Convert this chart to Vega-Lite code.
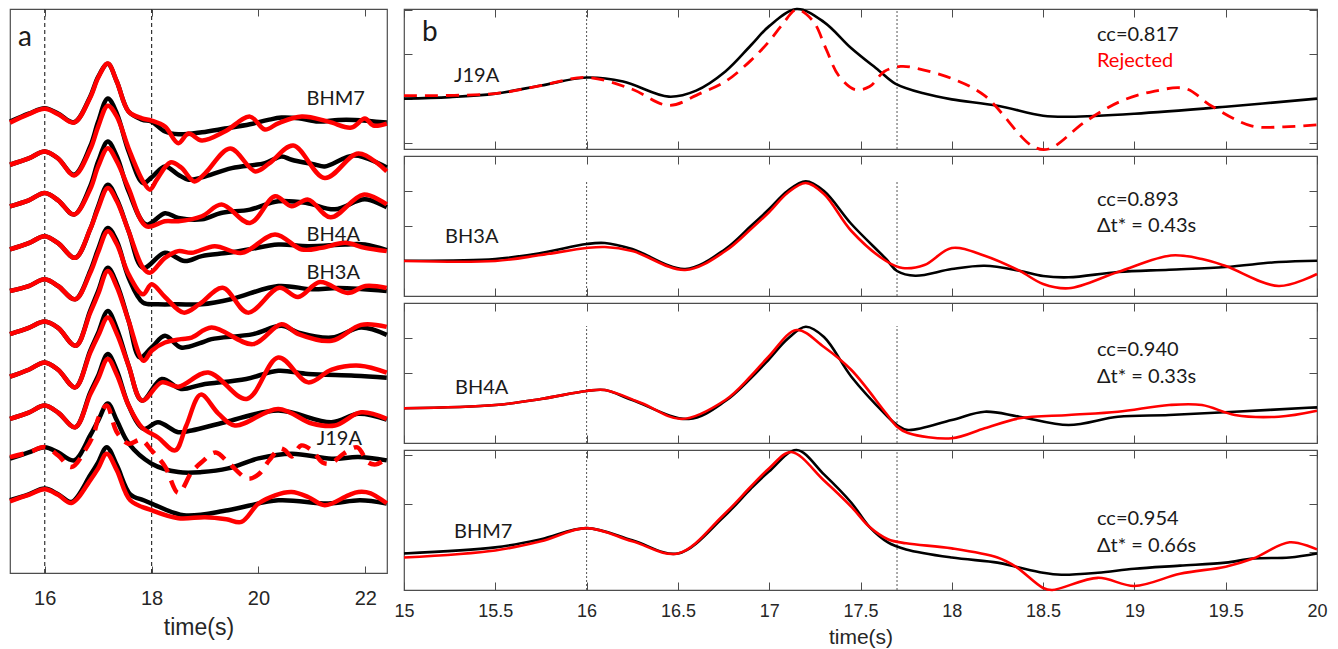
{
"$schema":"https://vega.github.io/schema/vega-lite/v6.json",
"padding":{"left":0,"top":3,"right":0,"bottom":0},
"background":"white",
"bounds":"flush",
"spacing":17,
"config":{
 "view":{"stroke":"#4d4d4d","strokeWidth":1.2},
 "axis":{"grid":false,"domain":false,"tickColor":"#4d4d4d","tickWidth":1,"labelFont":"Liberation Sans","titleFont":"Liberation Sans","labelColor":"#262626","titleColor":"#262626","titleFontWeight":"normal","labelFlush":false}
},
"datasets":{
"ra":[{"t":16},{"t":18}],
"ta":[
 {"t":15.5,"v":537,"txt":"a","k":"panel"},
 {"t":20.9,"v":475.5,"txt":"BHM7","k":"stn"},
 {"t":20.9,"v":339,"txt":"BH4A","k":"stn"},
 {"t":20.9,"v":301,"txt":"BH3A","k":"stn"},
 {"t":21.09,"v":134,"txt":"J19A","k":"stn"}
],
"rb":[
 {"p":"b1","t":16,"lo":0,"hi":139},{"p":"b1","t":17.7,"lo":0,"hi":139},
 {"p":"b2","t":16,"lo":0,"hi":115},{"p":"b2","t":17.7,"lo":0,"hi":115},
 {"p":"b3","t":16,"lo":0,"hi":117},{"p":"b3","t":17.7,"lo":0,"hi":117},
 {"p":"b4","t":16,"lo":0,"hi":138},{"p":"b4","t":17.7,"lo":0,"hi":138}
],
"tb":[
 {"p":"b1","t":15.099,"v":115,"txt":"b","k":"panel"},
 {"p":"b1","t":15.274,"v":72,"txt":"J19A","k":"stn"},
 {"p":"b1","t":18.795,"v":113,"txt":"cc=0.817","k":"cc"},
 {"p":"b1","t":18.795,"v":87,"txt":"Rejected","k":"rej"},
 {"p":"b2","t":15.225,"v":59,"txt":"BH3A","k":"stn"},
 {"p":"b2","t":18.795,"v":96.3,"txt":"cc=0.893","k":"cc"},
 {"p":"b2","t":18.795,"v":70,"txt":"Δt* = 0.43s","k":"cc"},
 {"p":"b3","t":15.279,"v":55,"txt":"BH4A","k":"stn"},
 {"p":"b3","t":18.795,"v":93,"txt":"cc=0.940","k":"cc"},
 {"p":"b3","t":18.795,"v":65.7,"txt":"Δt* = 0.33s","k":"cc"},
 {"p":"b4","t":15.274,"v":57,"txt":"BHM7","k":"stn"},
 {"p":"b4","t":18.795,"v":70,"txt":"cc=0.954","k":"cc"},
 {"p":"b4","t":18.795,"v":43.3,"txt":"Δt* = 0.66s","k":"cc"}
],
"a":[
{"s":1,"c":"obs","t":15.35,"v":453},{"s":1,"c":"obs","t":15.7,"v":461},{"s":1,"c":"obs","t":16.0,"v":466.3},{"s":1,"c":"obs","t":16.25,"v":461},{"s":1,"c":"obs","t":16.55,"v":452.3},{"s":1,"c":"obs","t":16.85,"v":478},{"s":1,"c":"obs","t":17.0,"v":498},{"s":1,"c":"obs","t":17.18,"v":511},{"s":1,"c":"obs","t":17.35,"v":493},{"s":1,"c":"obs","t":17.57,"v":463},{"s":1,"c":"obs","t":17.82,"v":455},{"s":1,"c":"obs","t":18.0,"v":453},{"s":1,"c":"obs","t":18.25,"v":443},{"s":1,"c":"obs","t":18.5,"v":440.3},{"s":1,"c":"obs","t":18.94,"v":442.3},{"s":1,"c":"obs","t":19.37,"v":446},{"s":1,"c":"obs","t":19.84,"v":450.3},{"s":1,"c":"obs","t":20.18,"v":454.7},{"s":1,"c":"obs","t":20.43,"v":457},{"s":1,"c":"obs","t":20.75,"v":456.3},{"s":1,"c":"obs","t":21.12,"v":453},{"s":1,"c":"obs","t":21.49,"v":454.7},{"s":1,"c":"obs","t":21.8,"v":454.7},{"s":1,"c":"obs","t":22.4,"v":452},
{"s":1,"c":"syn","t":15.35,"v":452},{"s":1,"c":"syn","t":15.7,"v":460.5},{"s":1,"c":"syn","t":16.0,"v":466},{"s":1,"c":"syn","t":16.25,"v":460.5},{"s":1,"c":"syn","t":16.55,"v":452},{"s":1,"c":"syn","t":16.85,"v":477},{"s":1,"c":"syn","t":17.0,"v":497},{"s":1,"c":"syn","t":17.18,"v":511.3},{"s":1,"c":"syn","t":17.35,"v":493},{"s":1,"c":"syn","t":17.57,"v":463},{"s":1,"c":"syn","t":17.82,"v":456.3},{"s":1,"c":"syn","t":18.0,"v":454},{"s":1,"c":"syn","t":18.25,"v":448},{"s":1,"c":"syn","t":18.5,"v":431.3},{"s":1,"c":"syn","t":18.69,"v":441},{"s":1,"c":"syn","t":18.94,"v":434},{"s":1,"c":"syn","t":19.37,"v":443},{"s":1,"c":"syn","t":19.84,"v":458},{"s":1,"c":"syn","t":20.12,"v":445},{"s":1,"c":"syn","t":20.37,"v":451.3},{"s":1,"c":"syn","t":20.81,"v":458},{"s":1,"c":"syn","t":21.31,"v":453},{"s":1,"c":"syn","t":21.74,"v":447},{"s":1,"c":"syn","t":21.99,"v":456},{"s":1,"c":"syn","t":22.15,"v":449},{"s":1,"c":"syn","t":22.4,"v":451},
{"s":2,"c":"obs","t":15.35,"v":409.7},{"s":2,"c":"obs","t":15.7,"v":416},{"s":2,"c":"obs","t":16.0,"v":423},{"s":2,"c":"obs","t":16.25,"v":416},{"s":2,"c":"obs","t":16.55,"v":399.7},{"s":2,"c":"obs","t":16.85,"v":428},{"s":2,"c":"obs","t":17.0,"v":453},{"s":2,"c":"obs","t":17.18,"v":476.3},{"s":2,"c":"obs","t":17.35,"v":461},{"s":2,"c":"obs","t":17.57,"v":423},{"s":2,"c":"obs","t":17.84,"v":391.3},{"s":2,"c":"obs","t":18.0,"v":397},{"s":2,"c":"obs","t":18.25,"v":408},{"s":2,"c":"obs","t":18.5,"v":399.7},{"s":2,"c":"obs","t":18.69,"v":394.7},{"s":2,"c":"obs","t":18.94,"v":397},{"s":2,"c":"obs","t":19.5,"v":406.3},{"s":2,"c":"obs","t":20.12,"v":411.3},{"s":2,"c":"obs","t":20.43,"v":418},{"s":2,"c":"obs","t":20.62,"v":414.7},{"s":2,"c":"obs","t":21.05,"v":410},{"s":2,"c":"obs","t":21.24,"v":408},{"s":2,"c":"obs","t":21.8,"v":419},{"s":2,"c":"obs","t":22.4,"v":407},
{"s":2,"c":"syn","t":15.35,"v":409.7},{"s":2,"c":"syn","t":15.7,"v":416},{"s":2,"c":"syn","t":16.0,"v":423},{"s":2,"c":"syn","t":16.25,"v":416},{"s":2,"c":"syn","t":16.55,"v":399},{"s":2,"c":"syn","t":16.85,"v":425},{"s":2,"c":"syn","t":17.0,"v":448},{"s":2,"c":"syn","t":17.18,"v":469},{"s":2,"c":"syn","t":17.35,"v":458},{"s":2,"c":"syn","t":17.57,"v":426},{"s":2,"c":"syn","t":17.84,"v":393},{"s":2,"c":"syn","t":17.97,"v":384.7},{"s":2,"c":"syn","t":18.1,"v":395},{"s":2,"c":"syn","t":18.35,"v":412},{"s":2,"c":"syn","t":18.55,"v":407},{"s":2,"c":"syn","t":18.8,"v":393},{"s":2,"c":"syn","t":19.0,"v":401},{"s":2,"c":"syn","t":19.47,"v":426},{"s":2,"c":"syn","t":19.94,"v":403},{"s":2,"c":"syn","t":20.2,"v":411},{"s":2,"c":"syn","t":20.65,"v":429},{"s":2,"c":"syn","t":21.24,"v":396.3},{"s":2,"c":"syn","t":21.87,"v":421},{"s":2,"c":"syn","t":22.4,"v":403},
{"s":3,"c":"obs","t":15.35,"v":368},{"s":3,"c":"obs","t":15.7,"v":374},{"s":3,"c":"obs","t":16.0,"v":381.3},{"s":3,"c":"obs","t":16.25,"v":374},{"s":3,"c":"obs","t":16.55,"v":359.7},{"s":3,"c":"obs","t":16.85,"v":388},{"s":3,"c":"obs","t":17.0,"v":413},{"s":3,"c":"obs","t":17.18,"v":433},{"s":3,"c":"obs","t":17.35,"v":418},{"s":3,"c":"obs","t":17.57,"v":383},{"s":3,"c":"obs","t":17.9,"v":349.7},{"s":3,"c":"obs","t":18.25,"v":361},{"s":3,"c":"obs","t":18.5,"v":356.3},{"s":3,"c":"obs","t":18.94,"v":355},{"s":3,"c":"obs","t":19.3,"v":361.3},{"s":3,"c":"obs","t":19.84,"v":364.7},{"s":3,"c":"obs","t":20.37,"v":373},{"s":3,"c":"obs","t":20.9,"v":371.3},{"s":3,"c":"obs","t":21.43,"v":365},{"s":3,"c":"obs","t":21.99,"v":375},{"s":3,"c":"obs","t":22.4,"v":367},
{"s":3,"c":"syn","t":15.35,"v":368},{"s":3,"c":"syn","t":15.7,"v":374},{"s":3,"c":"syn","t":16.0,"v":381.3},{"s":3,"c":"syn","t":16.25,"v":374},{"s":3,"c":"syn","t":16.55,"v":359.7},{"s":3,"c":"syn","t":16.85,"v":385},{"s":3,"c":"syn","t":17.0,"v":408},{"s":3,"c":"syn","t":17.18,"v":426.3},{"s":3,"c":"syn","t":17.35,"v":413},{"s":3,"c":"syn","t":17.57,"v":386},{"s":3,"c":"syn","t":17.9,"v":348},{"s":3,"c":"syn","t":18.25,"v":353},{"s":3,"c":"syn","t":18.5,"v":353},{"s":3,"c":"syn","t":18.94,"v":358},{"s":3,"c":"syn","t":19.31,"v":369.7},{"s":3,"c":"syn","t":19.84,"v":351.3},{"s":3,"c":"syn","t":20.31,"v":378},{"s":3,"c":"syn","t":20.62,"v":368},{"s":3,"c":"syn","t":20.93,"v":374.7},{"s":3,"c":"syn","t":21.35,"v":357},{"s":3,"c":"syn","t":21.96,"v":379.7},{"s":3,"c":"syn","t":22.4,"v":370},
{"s":4,"c":"obs","t":15.35,"v":324.7},{"s":4,"c":"obs","t":15.7,"v":331},{"s":4,"c":"obs","t":16.0,"v":338},{"s":4,"c":"obs","t":16.25,"v":331},{"s":4,"c":"obs","t":16.57,"v":316.3},{"s":4,"c":"obs","t":16.85,"v":345},{"s":4,"c":"obs","t":17.0,"v":368},{"s":4,"c":"obs","t":17.18,"v":389.7},{"s":4,"c":"obs","t":17.35,"v":375},{"s":4,"c":"obs","t":17.57,"v":343},{"s":4,"c":"obs","t":17.84,"v":306.3},{"s":4,"c":"obs","t":18.25,"v":321.3},{"s":4,"c":"obs","t":18.62,"v":313},{"s":4,"c":"obs","t":18.94,"v":318},{"s":4,"c":"obs","t":19.43,"v":321.3},{"s":4,"c":"obs","t":19.81,"v":324.7},{"s":4,"c":"obs","t":20.37,"v":329.7},{"s":4,"c":"obs","t":20.93,"v":328},{"s":4,"c":"obs","t":21.62,"v":329.7},{"s":4,"c":"obs","t":21.99,"v":329.7},{"s":4,"c":"obs","t":22.4,"v":324},
{"s":4,"c":"syn","t":15.35,"v":324.7},{"s":4,"c":"syn","t":15.7,"v":331},{"s":4,"c":"syn","t":16.0,"v":338},{"s":4,"c":"syn","t":16.25,"v":331},{"s":4,"c":"syn","t":16.57,"v":316.3},{"s":4,"c":"syn","t":16.85,"v":345},{"s":4,"c":"syn","t":17.0,"v":366},{"s":4,"c":"syn","t":17.18,"v":386.3},{"s":4,"c":"syn","t":17.35,"v":373},{"s":4,"c":"syn","t":17.57,"v":343},{"s":4,"c":"syn","t":17.84,"v":306.3},{"s":4,"c":"syn","t":17.97,"v":301.3},{"s":4,"c":"syn","t":18.25,"v":316.3},{"s":4,"c":"syn","t":18.5,"v":323},{"s":4,"c":"syn","t":18.75,"v":321.3},{"s":4,"c":"syn","t":19.18,"v":328},{"s":4,"c":"syn","t":19.69,"v":321.3},{"s":4,"c":"syn","t":20.31,"v":339.7},{"s":4,"c":"syn","t":20.81,"v":324.7},{"s":4,"c":"syn","t":21.18,"v":326.3},{"s":4,"c":"syn","t":21.62,"v":331.3},{"s":4,"c":"syn","t":21.99,"v":326.3},{"s":4,"c":"syn","t":22.4,"v":323},
{"s":5,"c":"obs","t":15.35,"v":283},{"s":5,"c":"obs","t":15.7,"v":288},{"s":5,"c":"obs","t":16.0,"v":294.7},{"s":5,"c":"obs","t":16.25,"v":288},{"s":5,"c":"obs","t":16.57,"v":274.7},{"s":5,"c":"obs","t":16.85,"v":303},{"s":5,"c":"obs","t":17.0,"v":325},{"s":5,"c":"obs","t":17.18,"v":346.3},{"s":5,"c":"obs","t":17.35,"v":333},{"s":5,"c":"obs","t":17.57,"v":296.3},{"s":5,"c":"obs","t":17.84,"v":271.3},{"s":5,"c":"obs","t":18.12,"v":269.7},{"s":5,"c":"obs","t":18.5,"v":269.7},{"s":5,"c":"obs","t":18.94,"v":269.7},{"s":5,"c":"obs","t":19.5,"v":275},{"s":5,"c":"obs","t":20.37,"v":288},{"s":5,"c":"obs","t":21.0,"v":284.7},{"s":5,"c":"obs","t":21.5,"v":286},{"s":5,"c":"obs","t":22.4,"v":283},
{"s":5,"c":"syn","t":15.35,"v":283},{"s":5,"c":"syn","t":15.7,"v":288},{"s":5,"c":"syn","t":16.0,"v":294.7},{"s":5,"c":"syn","t":16.25,"v":288},{"s":5,"c":"syn","t":16.57,"v":274.7},{"s":5,"c":"syn","t":16.85,"v":301},{"s":5,"c":"syn","t":17.0,"v":322},{"s":5,"c":"syn","t":17.18,"v":343},{"s":5,"c":"syn","t":17.35,"v":330},{"s":5,"c":"syn","t":17.57,"v":299.7},{"s":5,"c":"syn","t":17.84,"v":279.7},{"s":5,"c":"syn","t":18.0,"v":289.7},{"s":5,"c":"syn","t":18.25,"v":277},{"s":5,"c":"syn","t":18.6,"v":261.3},{"s":5,"c":"syn","t":18.9,"v":270},{"s":5,"c":"syn","t":19.33,"v":286.3},{"s":5,"c":"syn","t":19.8,"v":261.3},{"s":5,"c":"syn","t":20.39,"v":286.3},{"s":5,"c":"syn","t":20.74,"v":277},{"s":5,"c":"syn","t":21.15,"v":292},{"s":5,"c":"syn","t":21.67,"v":281},{"s":5,"c":"syn","t":22.0,"v":288},{"s":5,"c":"syn","t":22.4,"v":286},
{"s":6,"c":"obs","t":15.35,"v":239.7},{"s":6,"c":"obs","t":15.7,"v":246},{"s":6,"c":"obs","t":16.0,"v":252.3},{"s":6,"c":"obs","t":16.25,"v":246},{"s":6,"c":"obs","t":16.58,"v":228},{"s":6,"c":"obs","t":16.85,"v":263},{"s":6,"c":"obs","t":17.0,"v":283},{"s":6,"c":"obs","t":17.18,"v":306.3},{"s":6,"c":"obs","t":17.35,"v":290},{"s":6,"c":"obs","t":17.57,"v":253},{"s":6,"c":"obs","t":17.78,"v":216.3},{"s":6,"c":"obs","t":18.0,"v":226.3},{"s":6,"c":"obs","t":18.25,"v":238},{"s":6,"c":"obs","t":18.55,"v":226.3},{"s":6,"c":"obs","t":18.94,"v":231.3},{"s":6,"c":"obs","t":19.12,"v":234.7},{"s":6,"c":"obs","t":19.9,"v":239.7},{"s":6,"c":"obs","t":20.43,"v":248},{"s":6,"c":"obs","t":20.75,"v":241.3},{"s":6,"c":"obs","t":21.37,"v":236.3},{"s":6,"c":"obs","t":21.92,"v":246.3},{"s":6,"c":"obs","t":22.4,"v":239},
{"s":6,"c":"syn","t":15.35,"v":239.7},{"s":6,"c":"syn","t":15.7,"v":246},{"s":6,"c":"syn","t":16.0,"v":252.3},{"s":6,"c":"syn","t":16.25,"v":246},{"s":6,"c":"syn","t":16.58,"v":228},{"s":6,"c":"syn","t":16.85,"v":261},{"s":6,"c":"syn","t":17.0,"v":280},{"s":6,"c":"syn","t":17.18,"v":303},{"s":6,"c":"syn","t":17.35,"v":287},{"s":6,"c":"syn","t":17.57,"v":253},{"s":6,"c":"syn","t":17.85,"v":213},{"s":6,"c":"syn","t":18.0,"v":223},{"s":6,"c":"syn","t":18.25,"v":231.3},{"s":6,"c":"syn","t":18.55,"v":234.7},{"s":6,"c":"syn","t":18.75,"v":236.3},{"s":6,"c":"syn","t":19.12,"v":246.3},{"s":6,"c":"syn","t":19.9,"v":229.7},{"s":6,"c":"syn","t":20.43,"v":249.7},{"s":6,"c":"syn","t":20.75,"v":239.7},{"s":6,"c":"syn","t":21.37,"v":233},{"s":6,"c":"syn","t":21.92,"v":249},{"s":6,"c":"syn","t":22.4,"v":247},
{"s":7,"c":"obs","t":15.35,"v":197},{"s":7,"c":"obs","t":15.7,"v":204},{"s":7,"c":"obs","t":16.0,"v":211.3},{"s":7,"c":"obs","t":16.25,"v":204},{"s":7,"c":"obs","t":16.57,"v":186.3},{"s":7,"c":"obs","t":16.85,"v":223},{"s":7,"c":"obs","t":17.0,"v":241},{"s":7,"c":"obs","t":17.18,"v":263},{"s":7,"c":"obs","t":17.35,"v":245},{"s":7,"c":"obs","t":17.57,"v":208},{"s":7,"c":"obs","t":17.82,"v":173},{"s":7,"c":"obs","t":18.19,"v":194.7},{"s":7,"c":"obs","t":18.55,"v":184.7},{"s":7,"c":"obs","t":18.94,"v":189},{"s":7,"c":"obs","t":19.77,"v":194.7},{"s":7,"c":"obs","t":20.37,"v":203},{"s":7,"c":"obs","t":20.93,"v":199.7},{"s":7,"c":"obs","t":21.8,"v":198},{"s":7,"c":"obs","t":22.4,"v":196},
{"s":7,"c":"syn","t":15.35,"v":197},{"s":7,"c":"syn","t":15.7,"v":204},{"s":7,"c":"syn","t":16.0,"v":211.3},{"s":7,"c":"syn","t":16.25,"v":204},{"s":7,"c":"syn","t":16.57,"v":186.3},{"s":7,"c":"syn","t":16.85,"v":221},{"s":7,"c":"syn","t":17.0,"v":238},{"s":7,"c":"syn","t":17.18,"v":256.3},{"s":7,"c":"syn","t":17.35,"v":240},{"s":7,"c":"syn","t":17.57,"v":208},{"s":7,"c":"syn","t":17.82,"v":173},{"s":7,"c":"syn","t":18.19,"v":191.3},{"s":7,"c":"syn","t":18.5,"v":187},{"s":7,"c":"syn","t":19.06,"v":201.3},{"s":7,"c":"syn","t":19.78,"v":174.7},{"s":7,"c":"syn","t":20.37,"v":216.3},{"s":7,"c":"syn","t":20.93,"v":191.3},{"s":7,"c":"syn","t":21.37,"v":204},{"s":7,"c":"syn","t":21.9,"v":208},{"s":7,"c":"syn","t":22.4,"v":201},
{"s":8,"c":"obs","t":15.35,"v":154.7},{"s":8,"c":"obs","t":15.7,"v":161},{"s":8,"c":"obs","t":16.0,"v":168},{"s":8,"c":"obs","t":16.25,"v":161},{"s":8,"c":"obs","t":16.57,"v":146.3},{"s":8,"c":"obs","t":16.85,"v":181},{"s":8,"c":"obs","t":17.0,"v":198},{"s":8,"c":"obs","t":17.18,"v":219.7},{"s":8,"c":"obs","t":17.35,"v":203},{"s":8,"c":"obs","t":17.57,"v":168},{"s":8,"c":"obs","t":17.85,"v":144.7},{"s":8,"c":"obs","t":18.12,"v":151.3},{"s":8,"c":"obs","t":18.5,"v":141.3},{"s":8,"c":"obs","t":18.75,"v":143},{"s":8,"c":"obs","t":19.37,"v":151.3},{"s":8,"c":"obs","t":20.37,"v":163},{"s":8,"c":"obs","t":21.37,"v":151.3},{"s":8,"c":"obs","t":21.87,"v":159.7},{"s":8,"c":"obs","t":22.4,"v":154},
{"s":8,"c":"syn","t":15.35,"v":154.7},{"s":8,"c":"syn","t":15.7,"v":161},{"s":8,"c":"syn","t":16.0,"v":168},{"s":8,"c":"syn","t":16.25,"v":161},{"s":8,"c":"syn","t":16.57,"v":146.3},{"s":8,"c":"syn","t":16.85,"v":179},{"s":8,"c":"syn","t":17.0,"v":195},{"s":8,"c":"syn","t":17.18,"v":214.7},{"s":8,"c":"syn","t":17.35,"v":199},{"s":8,"c":"syn","t":17.57,"v":168},{"s":8,"c":"syn","t":17.82,"v":146},{"s":8,"c":"syn","t":18.12,"v":136},{"s":8,"c":"syn","t":18.44,"v":123},{"s":8,"c":"syn","t":18.65,"v":148},{"s":8,"c":"syn","t":18.92,"v":179},{"s":8,"c":"syn","t":19.25,"v":160},{"s":8,"c":"syn","t":19.56,"v":148},{"s":8,"c":"syn","t":20.37,"v":164.7},{"s":8,"c":"syn","t":21.0,"v":150},{"s":8,"c":"syn","t":21.43,"v":148},{"s":8,"c":"syn","t":21.92,"v":161.3},{"s":8,"c":"syn","t":22.4,"v":154.7},
{"s":9,"c":"obs","t":15.35,"v":114.7},{"s":9,"c":"obs","t":15.7,"v":121},{"s":9,"c":"obs","t":16.0,"v":126.3},{"s":9,"c":"obs","t":16.25,"v":121},{"s":9,"c":"obs","t":16.55,"v":113},{"s":9,"c":"obs","t":16.85,"v":138},{"s":9,"c":"obs","t":17.0,"v":153},{"s":9,"c":"obs","t":17.18,"v":170},{"s":9,"c":"obs","t":17.35,"v":153},{"s":9,"c":"obs","t":17.57,"v":130},{"s":9,"c":"obs","t":18.0,"v":109.7},{"s":9,"c":"obs","t":18.5,"v":101.3},{"s":9,"c":"obs","t":18.94,"v":101.3},{"s":9,"c":"obs","t":19.43,"v":105},{"s":9,"c":"obs","t":20.0,"v":115},{"s":9,"c":"obs","t":20.62,"v":119.7},{"s":9,"c":"obs","t":21.37,"v":114.7},{"s":9,"c":"obs","t":21.87,"v":116.3},{"s":9,"c":"obs","t":22.4,"v":113},
{"s":9,"c":"syn","t":15.35,"v":116.3},{"s":9,"c":"syn","t":15.7,"v":121},{"s":9,"c":"syn","t":16.0,"v":126.3},{"s":9,"c":"syn","t":16.25,"v":118},{"s":9,"c":"syn","t":16.5,"v":106.3},{"s":9,"c":"syn","t":16.79,"v":126.3},{"s":9,"c":"syn","t":16.92,"v":140},{"s":9,"c":"syn","t":17.01,"v":156.3},{"s":9,"c":"syn","t":17.16,"v":168},{"s":9,"c":"syn","t":17.35,"v":141.3},{"s":9,"c":"syn","t":17.57,"v":129.7},{"s":9,"c":"syn","t":17.8,"v":133.7},{"s":9,"c":"syn","t":18.0,"v":123},{"s":9,"c":"syn","t":18.25,"v":107},{"s":9,"c":"syn","t":18.5,"v":80.3},{"s":9,"c":"syn","t":18.75,"v":101.3},{"s":9,"c":"syn","t":18.94,"v":111.3},{"s":9,"c":"syn","t":19.2,"v":121},{"s":9,"c":"syn","t":19.45,"v":110},{"s":9,"c":"syn","t":19.8,"v":94.7},{"s":9,"c":"syn","t":20.0,"v":99},{"s":9,"c":"syn","t":20.2,"v":113},{"s":9,"c":"syn","t":20.4,"v":125},{"s":9,"c":"syn","t":20.5,"v":123},{"s":9,"c":"syn","t":20.62,"v":117},{"s":9,"c":"syn","t":20.8,"v":128},{"s":9,"c":"syn","t":21.0,"v":123},{"s":9,"c":"syn","t":21.2,"v":111},{"s":9,"c":"syn","t":21.35,"v":110},{"s":9,"c":"syn","t":21.6,"v":120},{"s":9,"c":"syn","t":21.85,"v":126},{"s":9,"c":"syn","t":22.05,"v":111},{"s":9,"c":"syn","t":22.2,"v":109},{"s":9,"c":"syn","t":22.4,"v":115},
{"s":10,"c":"obs","t":15.35,"v":73},{"s":10,"c":"obs","t":15.7,"v":79},{"s":10,"c":"obs","t":16.0,"v":84.7},{"s":10,"c":"obs","t":16.25,"v":79},{"s":10,"c":"obs","t":16.5,"v":71.3},{"s":10,"c":"obs","t":16.85,"v":98},{"s":10,"c":"obs","t":17.0,"v":111},{"s":10,"c":"obs","t":17.16,"v":126.3},{"s":10,"c":"obs","t":17.35,"v":108},{"s":10,"c":"obs","t":17.6,"v":79},{"s":10,"c":"obs","t":17.85,"v":73},{"s":10,"c":"obs","t":18.0,"v":69.7},{"s":10,"c":"obs","t":18.6,"v":58},{"s":10,"c":"obs","t":19.43,"v":63},{"s":10,"c":"obs","t":20.37,"v":73},{"s":10,"c":"obs","t":21.31,"v":69.7},{"s":10,"c":"obs","t":21.9,"v":73},{"s":10,"c":"obs","t":22.4,"v":69.7},
{"s":10,"c":"syn","t":15.35,"v":72},{"s":10,"c":"syn","t":15.7,"v":78.5},{"s":10,"c":"syn","t":16.0,"v":84},{"s":10,"c":"syn","t":16.25,"v":78.5},{"s":10,"c":"syn","t":16.5,"v":70.3},{"s":10,"c":"syn","t":16.85,"v":93},{"s":10,"c":"syn","t":17.0,"v":105},{"s":10,"c":"syn","t":17.16,"v":119.7},{"s":10,"c":"syn","t":17.35,"v":103},{"s":10,"c":"syn","t":17.6,"v":73},{"s":10,"c":"syn","t":18.0,"v":63},{"s":10,"c":"syn","t":18.5,"v":55},{"s":10,"c":"syn","t":19.0,"v":56},{"s":10,"c":"syn","t":19.4,"v":54},{"s":10,"c":"syn","t":19.68,"v":51.3},{"s":10,"c":"syn","t":20.0,"v":69.7},{"s":10,"c":"syn","t":20.31,"v":78},{"s":10,"c":"syn","t":20.62,"v":81.3},{"s":10,"c":"syn","t":20.93,"v":76.3},{"s":10,"c":"syn","t":21.24,"v":68},{"s":10,"c":"syn","t":21.68,"v":78},{"s":10,"c":"syn","t":21.87,"v":81.3},{"s":10,"c":"syn","t":22.1,"v":80},{"s":10,"c":"syn","t":22.4,"v":70}
],
"b":[
{"p":"b1","c":"obs","t":15.0,"v":50},{"p":"b1","c":"obs","t":15.25,"v":51.5},{"p":"b1","c":"obs","t":15.5,"v":55},{"p":"b1","c":"obs","t":15.75,"v":63},{"p":"b1","c":"obs","t":16.0,"v":71},{"p":"b1","c":"obs","t":16.2,"v":67},{"p":"b1","c":"obs","t":16.45,"v":52},{"p":"b1","c":"obs","t":16.6,"v":58},{"p":"b1","c":"obs","t":16.76,"v":77},{"p":"b1","c":"obs","t":16.9,"v":103},{"p":"b1","c":"obs","t":17.0,"v":122},{"p":"b1","c":"obs","t":17.15,"v":139},{"p":"b1","c":"obs","t":17.3,"v":126},{"p":"b1","c":"obs","t":17.45,"v":100},{"p":"b1","c":"obs","t":17.6,"v":78},{"p":"b1","c":"obs","t":17.69,"v":65},{"p":"b1","c":"obs","t":17.85,"v":55},{"p":"b1","c":"obs","t":18.0,"v":49.3},{"p":"b1","c":"obs","t":18.25,"v":43},{"p":"b1","c":"obs","t":18.5,"v":33},{"p":"b1","c":"obs","t":18.65,"v":32},{"p":"b1","c":"obs","t":19.0,"v":35},{"p":"b1","c":"obs","t":19.5,"v":42},{"p":"b1","c":"obs","t":20.0,"v":50},
{"p":"b1","c":"syn","t":15.0,"v":53},{"p":"b1","c":"syn","t":15.5,"v":55},{"p":"b1","c":"syn","t":15.75,"v":63},{"p":"b1","c":"syn","t":16.0,"v":71},{"p":"b1","c":"syn","t":16.24,"v":60},{"p":"b1","c":"syn","t":16.45,"v":43.3},{"p":"b1","c":"syn","t":16.62,"v":55},{"p":"b1","c":"syn","t":16.76,"v":67},{"p":"b1","c":"syn","t":16.9,"v":88},{"p":"b1","c":"syn","t":17.0,"v":107},{"p":"b1","c":"syn","t":17.07,"v":123},{"p":"b1","c":"syn","t":17.15,"v":138.3},{"p":"b1","c":"syn","t":17.24,"v":127},{"p":"b1","c":"syn","t":17.31,"v":100},{"p":"b1","c":"syn","t":17.38,"v":73},{"p":"b1","c":"syn","t":17.47,"v":59},{"p":"b1","c":"syn","t":17.55,"v":62},{"p":"b1","c":"syn","t":17.63,"v":77},{"p":"b1","c":"syn","t":17.72,"v":82},{"p":"b1","c":"syn","t":17.81,"v":80},{"p":"b1","c":"syn","t":18.0,"v":70},{"p":"b1","c":"syn","t":18.18,"v":53},{"p":"b1","c":"syn","t":18.44,"v":3},{"p":"b1","c":"syn","t":18.53,"v":0},{"p":"b1","c":"syn","t":18.73,"v":27},{"p":"b1","c":"syn","t":18.92,"v":47},{"p":"b1","c":"syn","t":19.1,"v":57},{"p":"b1","c":"syn","t":19.28,"v":60},{"p":"b1","c":"syn","t":19.42,"v":43},{"p":"b1","c":"syn","t":19.64,"v":23},{"p":"b1","c":"syn","t":19.82,"v":22},{"p":"b1","c":"syn","t":20.0,"v":24},
{"p":"b2","c":"obs","t":15.0,"v":35.3},{"p":"b2","c":"obs","t":15.5,"v":37},{"p":"b2","c":"obs","t":15.75,"v":43},{"p":"b2","c":"obs","t":16.0,"v":52},{"p":"b2","c":"obs","t":16.1,"v":53},{"p":"b2","c":"obs","t":16.25,"v":47},{"p":"b2","c":"obs","t":16.54,"v":27},{"p":"b2","c":"obs","t":16.76,"v":47},{"p":"b2","c":"obs","t":16.9,"v":70},{"p":"b2","c":"obs","t":17.0,"v":87},{"p":"b2","c":"obs","t":17.1,"v":105},{"p":"b2","c":"obs","t":17.2,"v":114.7},{"p":"b2","c":"obs","t":17.3,"v":105},{"p":"b2","c":"obs","t":17.45,"v":72},{"p":"b2","c":"obs","t":17.64,"v":37},{"p":"b2","c":"obs","t":17.7,"v":25},{"p":"b2","c":"obs","t":17.8,"v":20.3},{"p":"b2","c":"obs","t":18.0,"v":27},{"p":"b2","c":"obs","t":18.18,"v":30.3},{"p":"b2","c":"obs","t":18.37,"v":25.3},{"p":"b2","c":"obs","t":18.5,"v":20},{"p":"b2","c":"obs","t":18.64,"v":18.7},{"p":"b2","c":"obs","t":18.91,"v":24},{"p":"b2","c":"obs","t":19.19,"v":26.3},{"p":"b2","c":"obs","t":19.5,"v":29},{"p":"b2","c":"obs","t":19.79,"v":34},{"p":"b2","c":"obs","t":20.0,"v":35.3},
{"p":"b2","c":"syn","t":15.0,"v":35},{"p":"b2","c":"syn","t":15.5,"v":35},{"p":"b2","c":"syn","t":15.75,"v":41},{"p":"b2","c":"syn","t":16.0,"v":48},{"p":"b2","c":"syn","t":16.1,"v":49},{"p":"b2","c":"syn","t":16.25,"v":45},{"p":"b2","c":"syn","t":16.54,"v":26},{"p":"b2","c":"syn","t":16.76,"v":45},{"p":"b2","c":"syn","t":16.9,"v":67},{"p":"b2","c":"syn","t":17.0,"v":84},{"p":"b2","c":"syn","t":17.1,"v":103},{"p":"b2","c":"syn","t":17.2,"v":113},{"p":"b2","c":"syn","t":17.3,"v":102},{"p":"b2","c":"syn","t":17.45,"v":65},{"p":"b2","c":"syn","t":17.64,"v":35},{"p":"b2","c":"syn","t":17.73,"v":28},{"p":"b2","c":"syn","t":17.85,"v":31},{"p":"b2","c":"syn","t":18.0,"v":48},{"p":"b2","c":"syn","t":18.18,"v":40.3},{"p":"b2","c":"syn","t":18.37,"v":25.3},{"p":"b2","c":"syn","t":18.5,"v":12},{"p":"b2","c":"syn","t":18.64,"v":7.7},{"p":"b2","c":"syn","t":18.91,"v":24},{"p":"b2","c":"syn","t":19.2,"v":40.5},{"p":"b2","c":"syn","t":19.37,"v":37},{"p":"b2","c":"syn","t":19.5,"v":30},{"p":"b2","c":"syn","t":19.79,"v":10},{"p":"b2","c":"syn","t":20.0,"v":22},
{"p":"b3","c":"obs","t":15.0,"v":34.7},{"p":"b3","c":"obs","t":15.5,"v":38},{"p":"b3","c":"obs","t":15.75,"v":44},{"p":"b3","c":"obs","t":16.0,"v":52},{"p":"b3","c":"obs","t":16.1,"v":53},{"p":"b3","c":"obs","t":16.25,"v":43},{"p":"b3","c":"obs","t":16.56,"v":24},{"p":"b3","c":"obs","t":16.76,"v":42},{"p":"b3","c":"obs","t":16.9,"v":65},{"p":"b3","c":"obs","t":17.0,"v":84},{"p":"b3","c":"obs","t":17.1,"v":104},{"p":"b3","c":"obs","t":17.2,"v":116.3},{"p":"b3","c":"obs","t":17.3,"v":106},{"p":"b3","c":"obs","t":17.45,"v":66.3},{"p":"b3","c":"obs","t":17.64,"v":28},{"p":"b3","c":"obs","t":17.7,"v":18},{"p":"b3","c":"obs","t":17.76,"v":13},{"p":"b3","c":"obs","t":18.0,"v":23},{"p":"b3","c":"obs","t":18.18,"v":31.3},{"p":"b3","c":"obs","t":18.37,"v":26.3},{"p":"b3","c":"obs","t":18.64,"v":18},{"p":"b3","c":"obs","t":18.91,"v":26.3},{"p":"b3","c":"obs","t":19.19,"v":28},{"p":"b3","c":"obs","t":19.55,"v":31.3},{"p":"b3","c":"obs","t":20.0,"v":35.7},
{"p":"b3","c":"syn","t":15.0,"v":34.7},{"p":"b3","c":"syn","t":15.5,"v":38},{"p":"b3","c":"syn","t":15.75,"v":44},{"p":"b3","c":"syn","t":16.0,"v":52},{"p":"b3","c":"syn","t":16.1,"v":53},{"p":"b3","c":"syn","t":16.3,"v":40},{"p":"b3","c":"syn","t":16.52,"v":24},{"p":"b3","c":"syn","t":16.76,"v":43},{"p":"b3","c":"syn","t":16.9,"v":67},{"p":"b3","c":"syn","t":17.0,"v":87},{"p":"b3","c":"syn","t":17.15,"v":113},{"p":"b3","c":"syn","t":17.3,"v":96},{"p":"b3","c":"syn","t":17.45,"v":73},{"p":"b3","c":"syn","t":17.64,"v":29.7},{"p":"b3","c":"syn","t":17.7,"v":16.3},{"p":"b3","c":"syn","t":17.76,"v":10},{"p":"b3","c":"syn","t":18.0,"v":4.7},{"p":"b3","c":"syn","t":18.18,"v":14.7},{"p":"b3","c":"syn","t":18.37,"v":24.7},{"p":"b3","c":"syn","t":18.64,"v":28},{"p":"b3","c":"syn","t":18.91,"v":31.3},{"p":"b3","c":"syn","t":19.19,"v":38},{"p":"b3","c":"syn","t":19.37,"v":38},{"p":"b3","c":"syn","t":19.55,"v":28},{"p":"b3","c":"syn","t":19.79,"v":26.3},{"p":"b3","c":"syn","t":20.0,"v":32.3},
{"p":"b4","c":"obs","t":15.0,"v":36},{"p":"b4","c":"obs","t":15.5,"v":42},{"p":"b4","c":"obs","t":15.75,"v":50},{"p":"b4","c":"obs","t":16.0,"v":61},{"p":"b4","c":"obs","t":16.25,"v":49},{"p":"b4","c":"obs","t":16.5,"v":36},{"p":"b4","c":"obs","t":16.75,"v":72},{"p":"b4","c":"obs","t":16.9,"v":100},{"p":"b4","c":"obs","t":17.0,"v":117},{"p":"b4","c":"obs","t":17.15,"v":138},{"p":"b4","c":"obs","t":17.3,"v":114},{"p":"b4","c":"obs","t":17.45,"v":86},{"p":"b4","c":"obs","t":17.55,"v":62},{"p":"b4","c":"obs","t":17.65,"v":47},{"p":"b4","c":"obs","t":17.75,"v":40},{"p":"b4","c":"obs","t":18.0,"v":32},{"p":"b4","c":"obs","t":18.25,"v":27},{"p":"b4","c":"obs","t":18.35,"v":23},{"p":"b4","c":"obs","t":18.5,"v":17},{"p":"b4","c":"obs","t":18.6,"v":15},{"p":"b4","c":"obs","t":18.8,"v":17},{"p":"b4","c":"obs","t":19.0,"v":21},{"p":"b4","c":"obs","t":19.25,"v":24},{"p":"b4","c":"obs","t":19.5,"v":27},{"p":"b4","c":"obs","t":19.65,"v":31},{"p":"b4","c":"obs","t":19.85,"v":32},{"p":"b4","c":"obs","t":20.0,"v":36},
{"p":"b4","c":"syn","t":15.0,"v":32},{"p":"b4","c":"syn","t":15.5,"v":39},{"p":"b4","c":"syn","t":15.75,"v":48},{"p":"b4","c":"syn","t":16.0,"v":61},{"p":"b4","c":"syn","t":16.25,"v":48},{"p":"b4","c":"syn","t":16.5,"v":36},{"p":"b4","c":"syn","t":16.75,"v":74},{"p":"b4","c":"syn","t":16.9,"v":102},{"p":"b4","c":"syn","t":17.0,"v":120},{"p":"b4","c":"syn","t":17.12,"v":136},{"p":"b4","c":"syn","t":17.3,"v":108},{"p":"b4","c":"syn","t":17.45,"v":82},{"p":"b4","c":"syn","t":17.55,"v":62},{"p":"b4","c":"syn","t":17.65,"v":50},{"p":"b4","c":"syn","t":17.75,"v":46},{"p":"b4","c":"syn","t":18.0,"v":41},{"p":"b4","c":"syn","t":18.25,"v":32},{"p":"b4","c":"syn","t":18.35,"v":23},{"p":"b4","c":"syn","t":18.5,"v":2},{"p":"b4","c":"syn","t":18.55,"v":0},{"p":"b4","c":"syn","t":18.8,"v":12},{"p":"b4","c":"syn","t":19.0,"v":4},{"p":"b4","c":"syn","t":19.25,"v":16},{"p":"b4","c":"syn","t":19.5,"v":23},{"p":"b4","c":"syn","t":19.65,"v":31},{"p":"b4","c":"syn","t":19.85,"v":47},{"p":"b4","c":"syn","t":20.0,"v":40}
]
},
"hconcat":[
{
 "width":377,"height":564,
 "layer":[
  {"data":{"name":"ra"},"mark":{"type":"rule","color":"#333333","strokeDash":[4,3],"strokeWidth":1.2},
   "encoding":{"x":{"field":"t","type":"quantitative","scale":{"domain":[15.35,22.405],"nice":false,"zero":false},"axis":{"orient":"top","labels":false,"values":[16,18,20,22],"tickSize":-7,"title":null}}}},
  {"data":{"name":"a"},"transform":[{"filter":"datum.c === 'obs'"}],"mark":{"type":"line","color":"#000000","strokeWidth":4.5,"interpolate":"catmull-rom"},
   "encoding":{"x":{"field":"t","type":"quantitative","scale":{"domain":[15.35,22.405],"nice":false,"zero":false},"axis":{"orient":"bottom","values":[16,18,20,22],"tickSize":-7,"labelFontSize":20,"labelPadding":22,"title":"time(s)","titleFontSize":23,"titlePadding":8,"format":"d"}},
    "y":{"field":"v","type":"quantitative","scale":{"domain":[0,566],"nice":false,"zero":false},"axis":null},
    "detail":{"field":"s","type":"nominal"}}},
  {"data":{"name":"a"},"transform":[{"filter":"datum.c === 'syn' && datum.s !== 9"}],"mark":{"type":"line","color":"#ff0000","strokeWidth":4.5,"interpolate":"catmull-rom"},
   "encoding":{"x":{"field":"t","type":"quantitative","scale":{"domain":[15.35,22.405],"nice":false,"zero":false},"axis":null},
    "y":{"field":"v","type":"quantitative","scale":{"domain":[0,566],"nice":false,"zero":false},"axis":null},
    "detail":{"field":"s","type":"nominal"}}},
  {"data":{"name":"a"},"transform":[{"filter":"datum.c === 'syn' && datum.s === 9"}],"mark":{"type":"line","color":"#ff0000","strokeWidth":4.5,"interpolate":"catmull-rom","strokeDash":[14,9]},
   "encoding":{"x":{"field":"t","type":"quantitative","scale":{"domain":[15.35,22.405],"nice":false,"zero":false},"axis":null},
    "y":{"field":"v","type":"quantitative","scale":{"domain":[0,566],"nice":false,"zero":false},"axis":null}}},
  {"data":{"name":"ta"},"mark":{"type":"text","align":"left","baseline":"middle","font":"Lato","color":"#1a1a1a"},
   "encoding":{"x":{"field":"t","type":"quantitative","scale":{"domain":[15.35,22.405],"nice":false,"zero":false},"axis":null},
    "y":{"field":"v","type":"quantitative","scale":{"domain":[0,566],"nice":false,"zero":false},"axis":null},
    "text":{"field":"txt"},
    "size":{"condition":{"test":"datum.k === 'panel'","value":28},"value":20}}}
 ],
 "resolve":{"axis":{"x":"independent","y":"independent"}}
},
{
 "vconcat":[
  {
   "width":913,"height":140,
   "layer":[
    {"data":{"name":"rb"},"transform":[{"filter":"datum.p === 'b1'"}],"mark":{"type":"rule","color":"#555555","strokeDash":[2,2],"strokeWidth":1},
     "encoding":{"x":{"field":"t","type":"quantitative","scale":{"domain":[15,20],"nice":false,"zero":false},"axis":{"orient":"top","labels":false,"values":[15,15.5,16,16.5,17,17.5,18,18.5,19,19.5,20],"tickSize":-8,"title":null}},
      "y":{"field":"lo","type":"quantitative","scale":{"domain":[0,139],"nice":false,"zero":false},"axis":{"orient":"right","labels":false,"values":[6,50,94,138],"tickSize":-8,"title":null}},
      "y2":{"field":"hi"}}},
    {"data":{"name":"b"},"transform":[{"filter":"datum.p === 'b1' && datum.c === 'obs'"}],"mark":{"type":"line","color":"#000000","strokeWidth":2.6,"interpolate":"catmull-rom"},
     "encoding":{"x":{"field":"t","type":"quantitative","scale":{"domain":[15,20],"nice":false,"zero":false},"axis":{"orient":"bottom","labels":false,"values":[15,15.5,16,16.5,17,17.5,18,18.5,19,19.5,20],"tickSize":-8,"title":null}},
      "y":{"field":"v","type":"quantitative","scale":{"domain":[0,139],"nice":false,"zero":false},"axis":{"orient":"left","labels":false,"values":[6,50,94,138],"tickSize":-8,"title":null}}}},
    {"data":{"name":"b"},"transform":[{"filter":"datum.p === 'b1' && datum.c === 'syn'"}],"mark":{"type":"line","color":"#ff0000","strokeWidth":2.8,"interpolate":"catmull-rom","strokeDash":[13,8]},
     "encoding":{"x":{"field":"t","type":"quantitative","scale":{"domain":[15,20],"nice":false,"zero":false},"axis":null},
      "y":{"field":"v","type":"quantitative","scale":{"domain":[0,139],"nice":false,"zero":false},"axis":null}}},
    {"data":{"name":"tb"},"transform":[{"filter":"datum.p === 'b1'"}],"mark":{"type":"text","align":"left","baseline":"middle","font":"Lato"},
     "encoding":{"x":{"field":"t","type":"quantitative","scale":{"domain":[15,20],"nice":false,"zero":false},"axis":null},
      "y":{"field":"v","type":"quantitative","scale":{"domain":[0,139],"nice":false,"zero":false},"axis":null},
      "text":{"field":"txt"},
      "color":{"condition":{"test":"datum.k === 'rej'","value":"#ff0000"},"value":"#1a1a1a"},
      "size":{"condition":{"test":"datum.k === 'panel'","value":28},"value":20}}}
   ],
   "resolve":{"axis":{"x":"independent","y":"independent"}}
  },
  {
   "width":913,"height":140,
   "layer":[
    {"data":{"name":"rb"},"transform":[{"filter":"datum.p === 'b2'"}],"mark":{"type":"rule","color":"#555555","strokeDash":[2,2],"strokeWidth":1},
     "encoding":{"x":{"field":"t","type":"quantitative","scale":{"domain":[15,20],"nice":false,"zero":false},"axis":{"orient":"top","labels":false,"values":[15,15.5,16,16.5,17,17.5,18,18.5,19,19.5,20],"tickSize":-8,"title":null}},
      "y":{"field":"lo","type":"quantitative","scale":{"domain":[0,140],"nice":false,"zero":false},"axis":{"orient":"right","labels":false,"values":[35,70,105],"tickSize":-8,"title":null}},
      "y2":{"field":"hi"}}},
    {"data":{"name":"b"},"transform":[{"filter":"datum.p === 'b2' && datum.c === 'obs'"}],"mark":{"type":"line","color":"#000000","strokeWidth":2.6,"interpolate":"catmull-rom"},
     "encoding":{"x":{"field":"t","type":"quantitative","scale":{"domain":[15,20],"nice":false,"zero":false},"axis":{"orient":"bottom","labels":false,"values":[15,15.5,16,16.5,17,17.5,18,18.5,19,19.5,20],"tickSize":-8,"title":null}},
      "y":{"field":"v","type":"quantitative","scale":{"domain":[0,140],"nice":false,"zero":false},"axis":{"orient":"left","labels":false,"values":[35,70,105],"tickSize":-8,"title":null}}}},
    {"data":{"name":"b"},"transform":[{"filter":"datum.p === 'b2' && datum.c === 'syn'"}],"mark":{"type":"line","color":"#ff0000","strokeWidth":2.6,"interpolate":"catmull-rom"},
     "encoding":{"x":{"field":"t","type":"quantitative","scale":{"domain":[15,20],"nice":false,"zero":false},"axis":null},
      "y":{"field":"v","type":"quantitative","scale":{"domain":[0,140],"nice":false,"zero":false},"axis":null}}},
    {"data":{"name":"tb"},"transform":[{"filter":"datum.p === 'b2'"}],"mark":{"type":"text","align":"left","baseline":"middle","font":"Lato","color":"#1a1a1a","fontSize":20},
     "encoding":{"x":{"field":"t","type":"quantitative","scale":{"domain":[15,20],"nice":false,"zero":false},"axis":null},
      "y":{"field":"v","type":"quantitative","scale":{"domain":[0,140],"nice":false,"zero":false},"axis":null},
      "text":{"field":"txt"}}}
   ],
   "resolve":{"axis":{"x":"independent","y":"independent"}}
  },
  {
   "width":913,"height":140,
   "layer":[
    {"data":{"name":"rb"},"transform":[{"filter":"datum.p === 'b3'"}],"mark":{"type":"rule","color":"#555555","strokeDash":[2,2],"strokeWidth":1},
     "encoding":{"x":{"field":"t","type":"quantitative","scale":{"domain":[15,20],"nice":false,"zero":false},"axis":{"orient":"top","labels":false,"values":[15,15.5,16,16.5,17,17.5,18,18.5,19,19.5,20],"tickSize":-8,"title":null}},
      "y":{"field":"lo","type":"quantitative","scale":{"domain":[0,140],"nice":false,"zero":false},"axis":{"orient":"right","labels":false,"values":[35,70,105],"tickSize":-8,"title":null}},
      "y2":{"field":"hi"}}},
    {"data":{"name":"b"},"transform":[{"filter":"datum.p === 'b3' && datum.c === 'obs'"}],"mark":{"type":"line","color":"#000000","strokeWidth":2.6,"interpolate":"catmull-rom"},
     "encoding":{"x":{"field":"t","type":"quantitative","scale":{"domain":[15,20],"nice":false,"zero":false},"axis":{"orient":"bottom","labels":false,"values":[15,15.5,16,16.5,17,17.5,18,18.5,19,19.5,20],"tickSize":-8,"title":null}},
      "y":{"field":"v","type":"quantitative","scale":{"domain":[0,140],"nice":false,"zero":false},"axis":{"orient":"left","labels":false,"values":[35,70,105],"tickSize":-8,"title":null}}}},
    {"data":{"name":"b"},"transform":[{"filter":"datum.p === 'b3' && datum.c === 'syn'"}],"mark":{"type":"line","color":"#ff0000","strokeWidth":2.6,"interpolate":"catmull-rom"},
     "encoding":{"x":{"field":"t","type":"quantitative","scale":{"domain":[15,20],"nice":false,"zero":false},"axis":null},
      "y":{"field":"v","type":"quantitative","scale":{"domain":[0,140],"nice":false,"zero":false},"axis":null}}},
    {"data":{"name":"tb"},"transform":[{"filter":"datum.p === 'b3'"}],"mark":{"type":"text","align":"left","baseline":"middle","font":"Lato","color":"#1a1a1a","fontSize":20},
     "encoding":{"x":{"field":"t","type":"quantitative","scale":{"domain":[15,20],"nice":false,"zero":false},"axis":null},
      "y":{"field":"v","type":"quantitative","scale":{"domain":[0,140],"nice":false,"zero":false},"axis":null},
      "text":{"field":"txt"}}}
   ],
   "resolve":{"axis":{"x":"independent","y":"independent"}}
  },
  {
   "width":913,"height":140,
   "layer":[
    {"data":{"name":"rb"},"transform":[{"filter":"datum.p === 'b4'"}],"mark":{"type":"rule","color":"#555555","strokeDash":[2,2],"strokeWidth":1},
     "encoding":{"x":{"field":"t","type":"quantitative","scale":{"domain":[15,20],"nice":false,"zero":false},"axis":{"orient":"top","labels":false,"values":[15,15.5,16,16.5,17,17.5,18,18.5,19,19.5,20],"tickSize":-8,"title":null}},
      "y":{"field":"lo","type":"quantitative","scale":{"domain":[0,138],"nice":false,"zero":false},"axis":{"orient":"right","labels":false,"values":[37,85,133],"tickSize":-8,"title":null}},
      "y2":{"field":"hi"}}},
    {"data":{"name":"b"},"transform":[{"filter":"datum.p === 'b4' && datum.c === 'obs'"}],"mark":{"type":"line","color":"#000000","strokeWidth":2.6,"interpolate":"catmull-rom"},
     "encoding":{"x":{"field":"t","type":"quantitative","scale":{"domain":[15,20],"nice":false,"zero":false},"axis":{"orient":"bottom","values":[15,15.5,16,16.5,17,17.5,18,18.5,19,19.5,20],"tickSize":-8,"format":"~g","labelFontSize":18,"labelPadding":20,"title":"time(s)","titleFontSize":21,"titlePadding":6}},
      "y":{"field":"v","type":"quantitative","scale":{"domain":[0,138],"nice":false,"zero":false},"axis":{"orient":"left","labels":false,"values":[37,85,133],"tickSize":-8,"title":null}}}},
    {"data":{"name":"b"},"transform":[{"filter":"datum.p === 'b4' && datum.c === 'syn'"}],"mark":{"type":"line","color":"#ff0000","strokeWidth":2.6,"interpolate":"catmull-rom"},
     "encoding":{"x":{"field":"t","type":"quantitative","scale":{"domain":[15,20],"nice":false,"zero":false},"axis":null},
      "y":{"field":"v","type":"quantitative","scale":{"domain":[0,138],"nice":false,"zero":false},"axis":null}}},
    {"data":{"name":"tb"},"transform":[{"filter":"datum.p === 'b4'"}],"mark":{"type":"text","align":"left","baseline":"middle","font":"Lato","color":"#1a1a1a","fontSize":20},
     "encoding":{"x":{"field":"t","type":"quantitative","scale":{"domain":[15,20],"nice":false,"zero":false},"axis":null},
      "y":{"field":"v","type":"quantitative","scale":{"domain":[0,138],"nice":false,"zero":false},"axis":null},
      "text":{"field":"txt"}}}
   ],
   "resolve":{"axis":{"x":"independent","y":"independent"}}
  }
 ],
 "spacing":7,
 "bounds":"flush"
}
]
}
